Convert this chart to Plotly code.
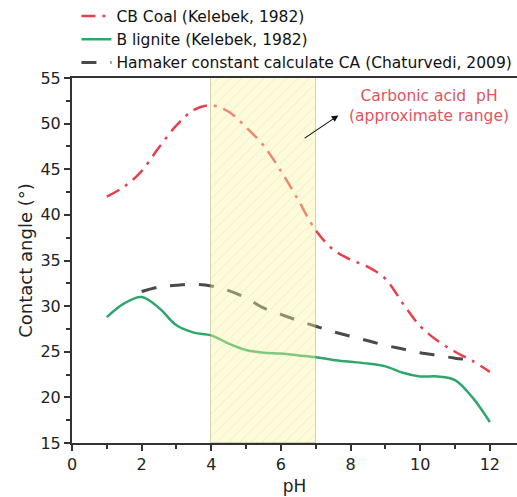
import plotly.graph_objects as go

# ---- data ----
ph_grid = [1, 1.5, 2, 2.5, 3, 3.5, 4, 4.5, 5, 5.5, 6, 6.5, 7, 7.5, 8, 8.5, 9, 9.5, 10, 10.5, 11, 11.5, 12]
cb_coal = [42.0, 43.1, 44.8, 47.4, 49.8, 51.5, 52.0, 51.3, 49.6, 47.6, 44.8, 41.6, 38.3, 36.2, 35.1, 34.3, 33.0, 30.3, 27.8, 26.2, 25.0, 24.0, 22.8]
b_lignite = [28.8, 30.3, 31.0, 29.8, 27.9, 27.1, 26.8, 25.9, 25.2, 24.9, 24.8, 24.6, 24.4, 24.1, 23.9, 23.7, 23.4, 22.7, 22.3, 22.3, 21.9, 20.0, 17.3]
ph_hamaker = [2, 2.5, 3, 3.5, 4, 4.5, 5, 5.5, 6, 6.5, 7, 7.5, 8, 8.5, 9, 9.5, 10, 10.5, 11, 11.5]
hamaker = [31.6, 32.1, 32.3, 32.4, 32.2, 31.7, 30.9, 29.8, 29.1, 28.4, 27.8, 27.2, 26.7, 26.2, 25.7, 25.3, 24.9, 24.6, 24.3, 24.1]
band_ph = [4, 7]          # carbonic acid pH range
y_min, y_max = 15, 55
x_ticks = [0, 2, 4, 6, 8, 10, 12]
y_ticks = [15, 20, 25, 30, 35, 40, 45, 50, 55]

FONT = "DejaVu Sans"
AXC = "#333333"

fig = go.Figure()

fig.add_trace(go.Scatter(x=ph_grid, y=cb_coal, mode="lines", name="CB Coal (Kelebek, 1982)",
                         line=dict(color="#e8404a", width=2.5, dash="14px,7px,3px,7px", shape="spline")))
fig.add_trace(go.Scatter(x=ph_grid, y=b_lignite, mode="lines", name="B lignite (Kelebek, 1982)",
                         line=dict(color="#2ea86a", width=2.5, shape="spline")))
fig.add_trace(go.Scatter(x=ph_hamaker, y=hamaker, mode="lines",
                         name="Hamaker constant calculate CA (Chaturvedi, 2009)",
                         line=dict(color="#4a4a4a", width=3, dash="15px,14px", shape="spline")))

# shaded band on overlaying axes so it sits above the lines
fig.add_trace(go.Bar(x=[(band_ph[0] + band_ph[1]) / 2], y=[y_max - y_min], base=[y_min],
                     width=[band_ph[1] - band_ph[0]], xaxis="x2", yaxis="y2", showlegend=False,
                     hoverinfo="skip",
                     marker=dict(color="rgba(250,246,160,0.40)",
                                 line=dict(color="rgba(150,150,100,0.4)", width=1),
                                 pattern=dict(shape="/", fillmode="overlay", size=8, solidity=0.1,
                                              fgcolor="rgba(170,170,130,0.45)"))))

xr = [0, 12.78]
fig.update_layout(
    width=517, height=497,
    margin=dict(l=72, r=0, t=78, b=54, autoexpand=False),
    paper_bgcolor="white", plot_bgcolor="white",
    font=dict(family=FONT, size=16, color="#222222"),
    showlegend=True,
    legend=dict(x=0.01, y=1.215, xanchor="left", yanchor="top", bgcolor="rgba(0,0,0,0)",
                font=dict(size=15.5, color="#111111"), tracegroupgap=0, itemwidth=30),
    xaxis=dict(range=xr, tickvals=x_ticks, ticks="outside", ticklen=6, tickwidth=1.5, tickcolor=AXC,
               showline=True, linecolor=AXC, linewidth=2, mirror=True, showgrid=False, zeroline=False,
               minor=dict(dtick=1, ticks="outside", ticklen=4, tickwidth=1.5, tickcolor=AXC),
               title=dict(text="pH", font=dict(size=17), standoff=7),
               tickfont=dict(size=16)),
    yaxis=dict(range=[y_min, y_max], tickvals=y_ticks, ticks="outside", ticklen=6, tickwidth=1.5,
               tickcolor=AXC, showline=True, linecolor=AXC, linewidth=2, showgrid=False, zeroline=False,
               minor=dict(dtick=2.5, ticks="outside", ticklen=4, tickwidth=1.5, tickcolor=AXC),
               title=dict(text="Contact angle (°)", font=dict(size=18), standoff=3),
               tickfont=dict(size=16)),
    xaxis2=dict(range=xr, overlaying="x", visible=False),
    yaxis2=dict(range=[y_min, y_max], overlaying="y", visible=False),
    bargap=0,
)

fig.add_annotation(x=10.25, y=51.9, xref="x", yref="y", text="Carbonic acid  pH<br>(approximate range)",
                   showarrow=False, font=dict(size=15.5, color="#e05560", family=FONT), align="center")
fig.add_annotation(x=7.65, y=50.9, ax=6.64, ay=48.3, xref="x", yref="y", axref="x", ayref="y",
                   text="", showarrow=True, arrowhead=2, arrowsize=1.2, arrowwidth=1.1, arrowcolor="#111111")

fig.write_html("out.html")
